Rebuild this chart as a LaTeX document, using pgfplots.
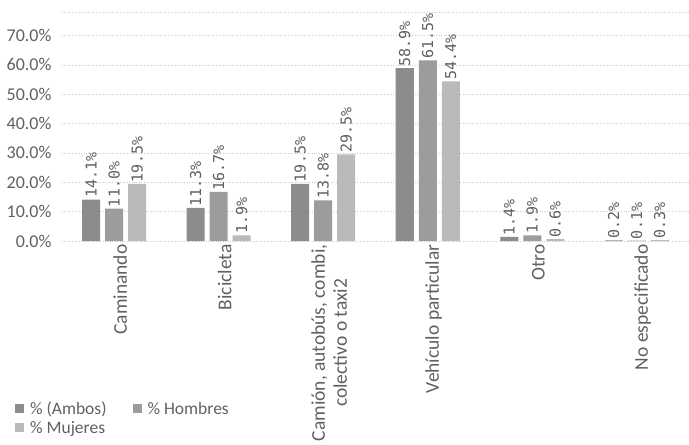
\documentclass[border=0pt]{standalone}
\usepackage{pgfplots}
\pgfplotsset{compat=1.18}
\usepackage{fontspec}
\setmainfont{Carlito}
\newfontfamily\monof{DejaVu Sans Mono}
\definecolor{cA}{HTML}{8C8C8C}
\definecolor{cH}{HTML}{9C9C9C}
\definecolor{cM}{HTML}{BABABA}
\definecolor{txt}{HTML}{606060}
\begin{document}
\begin{tikzpicture}
\path[use as bounding box] (-62pt,-204pt) rectangle (627pt,241pt);
\begin{axis}[
  scale only axis,
  width=627pt, height=229pt,
  at={(0pt,0pt)}, anchor=south west,
  ybar=5pt, bar width=18pt,
  ymin=0, ymax=78,
  xmin=-0.5, xmax=5.5,
  ytick={0,10,...,70},
  extra y ticks={78}, extra y tick labels={},
  extra y tick style={grid=major},
  ymajorgrids,
  major grid style={gray!40, dotted, line width=0.6pt},
  axis line style={draw=none},
  major tick length=0pt,
  /pgf/number format/assume math mode=true,
  yticklabel={\pgfmathprintnumber[fixed,fixed zerofill,precision=1]{\tick}\%},
  yticklabel style={font=\fontsize{18}{20}\selectfont, text=txt, xshift=-7pt},
  xtick=data,
  xticklabels={Caminando, Bicicleta, {Camión, autobús, combi,\\colectivo o taxi2}, Vehículo particular, Otro, No especificado},
  xticklabel style={font=\fontsize{19.5}{22}\selectfont, text=txt, rotate=90, anchor=east, align=center, yshift=-6pt},
  nodes near coords={\pgfmathprintnumber[fixed,fixed zerofill,precision=1]{\pgfplotspointmeta}\%},
  every node near coord/.append style={font=\monof\fontsize{15}{17}\selectfont, text=txt, rotate=90, anchor=west, inner sep=1.5pt},
  legend style={at={(-0.083,-0.69)}, anchor=north west, draw=none, fill=none,
    font=\fontsize{17.5}{19}\selectfont, text=txt, legend columns=2,
    nodes={inner ysep=0.5pt},
    /tikz/every even column/.append style={column sep=22pt}, row sep=4pt},
  legend cell align=left,
  legend image code/.code={\fill[#1] (0pt,-4.5pt) rectangle (9pt,4.5pt); \path (-2pt,0pt) (13pt,0pt);},
]
\addplot[fill=cA, draw=none] coordinates {(0,14.1) (1,11.3) (2,19.5) (3,58.9) (4,1.4) (5,0.2)};
\addplot[fill=cH, draw=none] coordinates {(0,11.0) (1,16.7) (2,13.8) (3,61.5) (4,1.9) (5,0.1)};
\addplot[fill=cM, draw=none] coordinates {(0,19.5) (1,1.9) (2,29.5) (3,54.4) (4,0.6) (5,0.3)};
\legend{\% (Ambos), \% Hombres, \% Mujeres}
\end{axis}
\end{tikzpicture}
\end{document}
